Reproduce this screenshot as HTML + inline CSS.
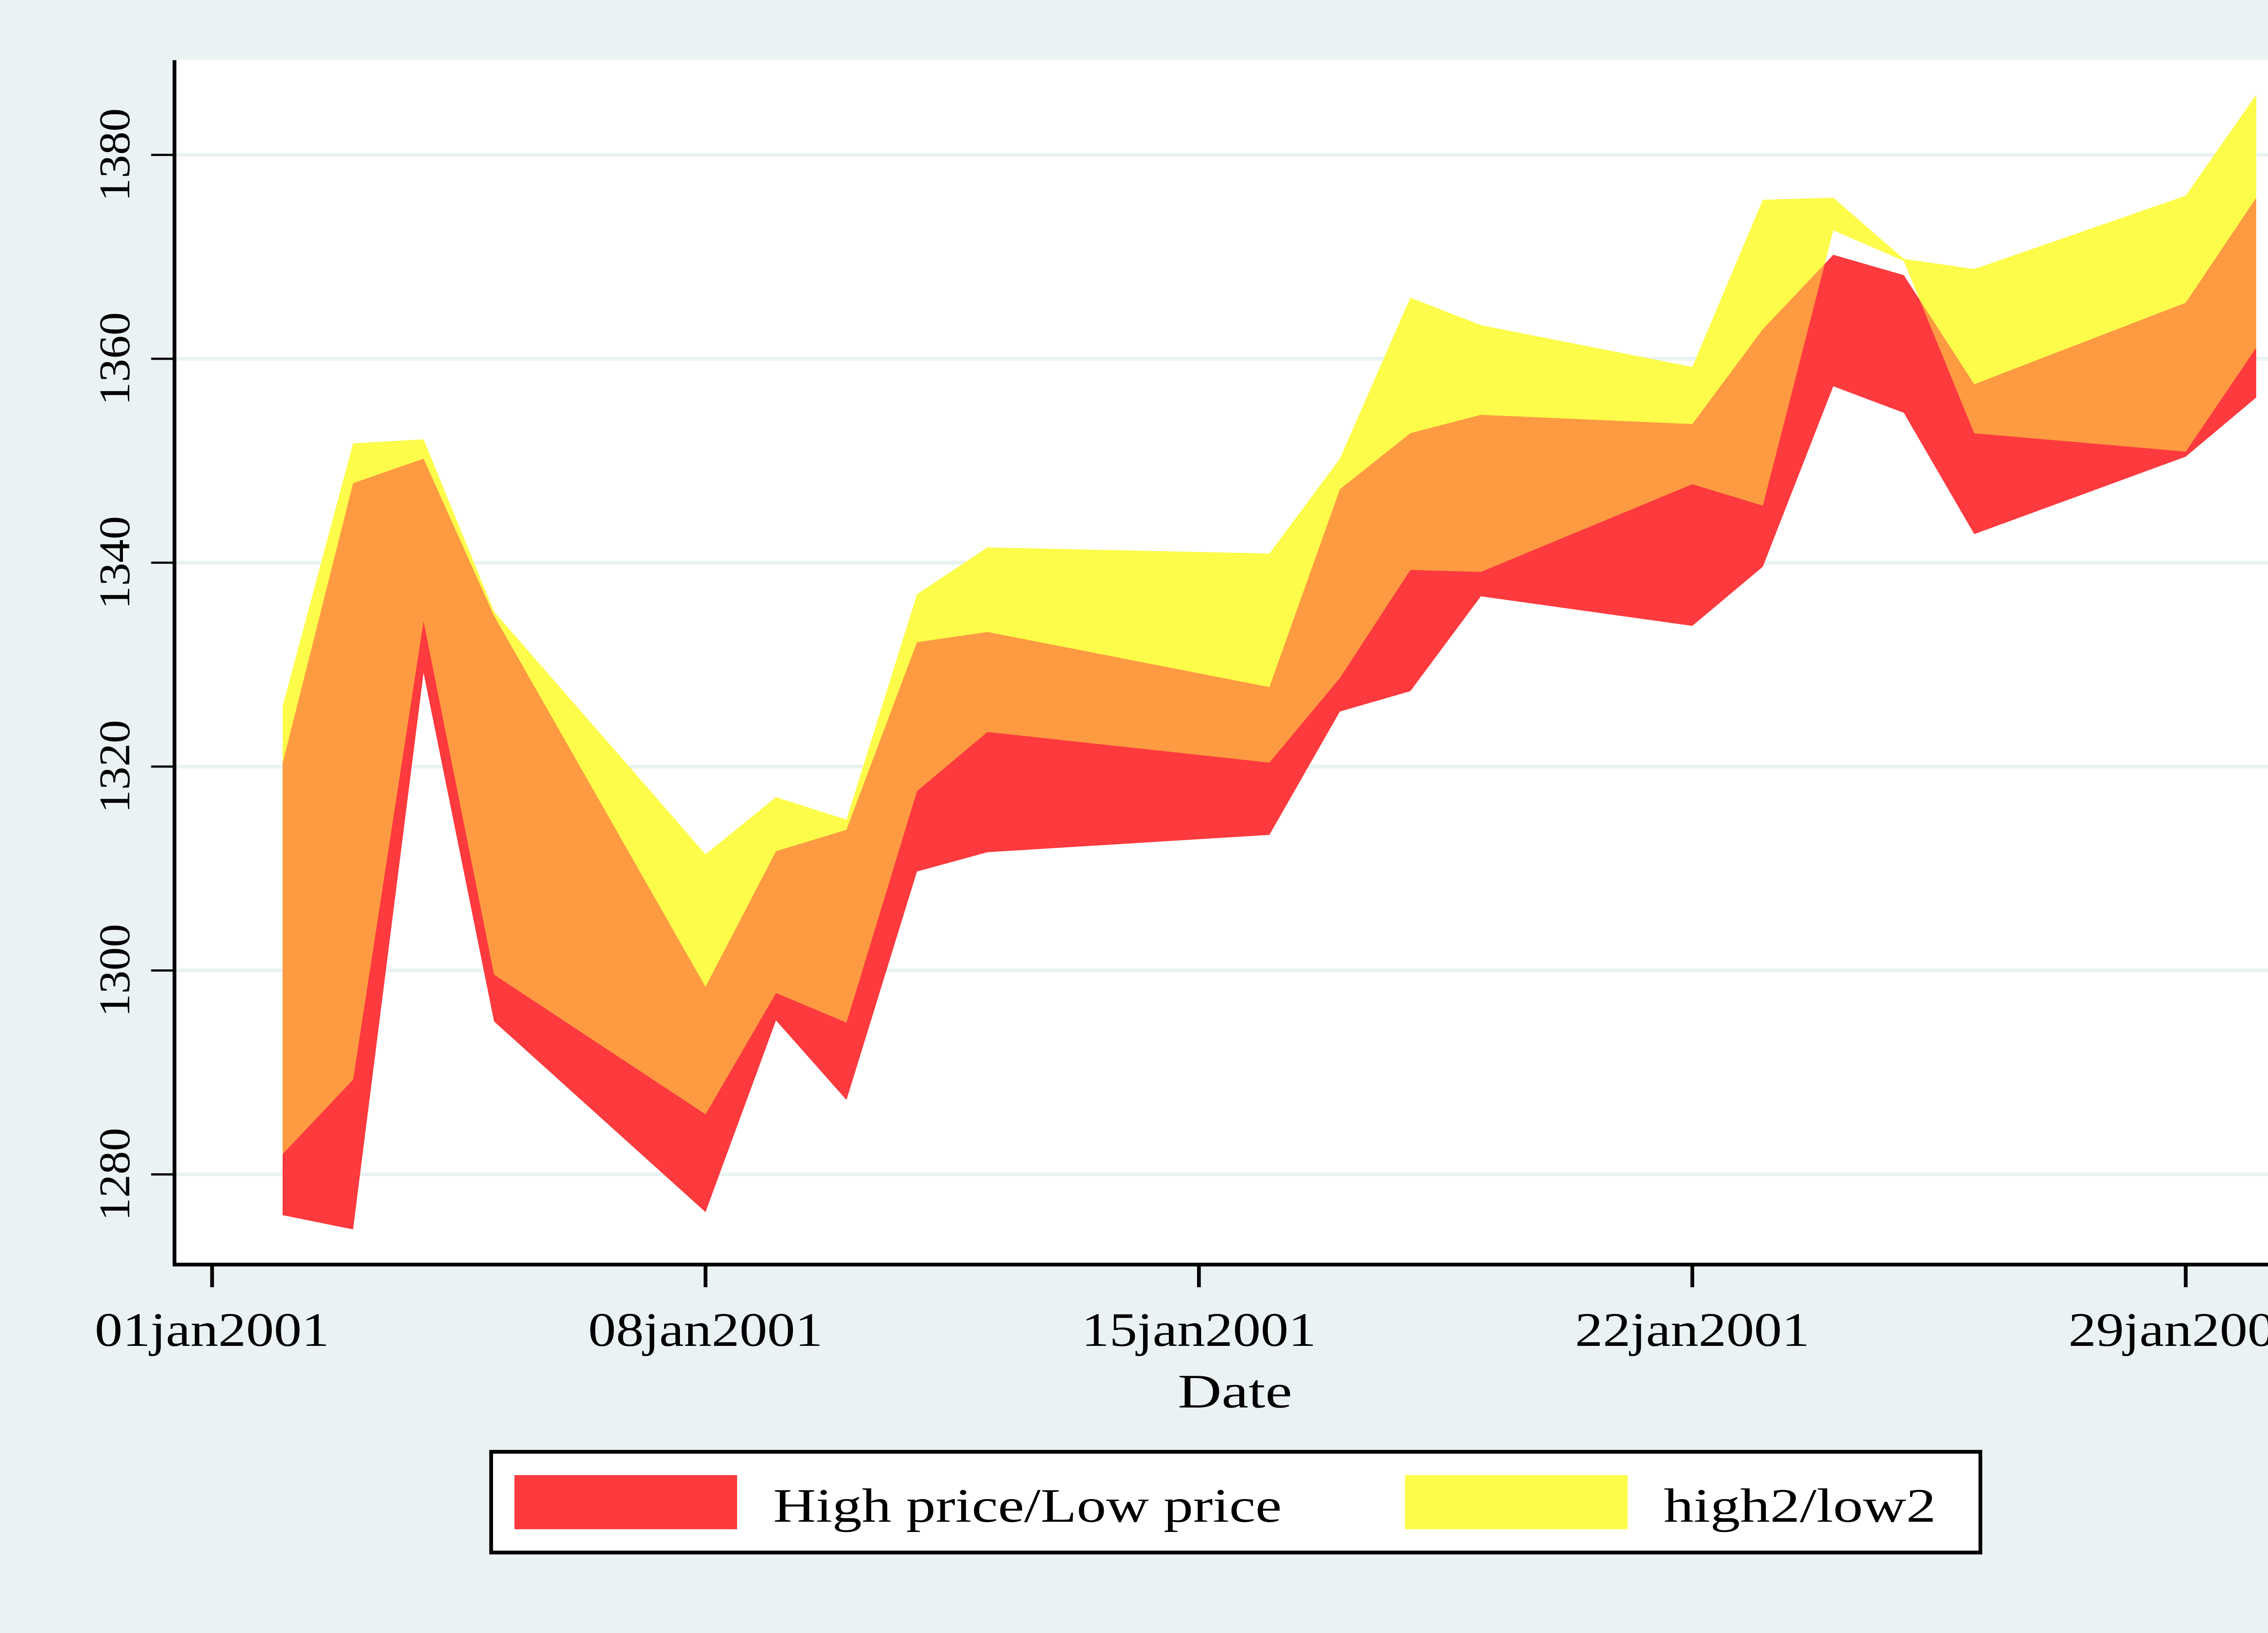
<!DOCTYPE html>
<html><head><meta charset="utf-8"><style>
html,body{margin:0;padding:0;background:#EAF2F3;width:5200px;height:3600px;overflow:hidden;}
svg{display:block;position:absolute;left:0;top:0;}
text{font-family:"Liberation Serif",serif;fill:#000;}
</style></head>
<body>
<svg id="chart" width="5200" height="3600" style="width:5200px;height:3600px" xmlns="http://www.w3.org/2000/svg">
<g transform="scale(3.31633,3.31492)">
<rect x="0" y="0" width="1568" height="1086" fill="#EAF2F3"/>
<rect x="116" y="40" width="1411" height="801" fill="#FFFFFF"/>
<g id="grid"></g>
<defs><clipPath id="yellowClip"><path id="yellowClipPath"/></clipPath></defs>
<g id="series"></g>
<g id="axes"></g>
<g>
<rect x="326.5" y="965.5" width="990" height="67" fill="#fff" stroke="#000" stroke-width="2.5"/>
<rect x="342" y="981" width="148" height="36" fill="#FD3A3E"/>
<text x="514" y="1012" font-size="32" textLength="338" lengthAdjust="spacingAndGlyphs">High price/Low price</text>
<rect x="934" y="981" width="148" height="36" fill="#FDFC4A"/>
<text x="1106" y="1012" font-size="32" textLength="181" lengthAdjust="spacingAndGlyphs">high2/low2</text>
</g>
<text x="783" y="936" font-size="32" textLength="76" lengthAdjust="spacingAndGlyphs">Date</text>
</g>
</svg>
<script>
const days = [2,3,4,5,8,9,10,11,12,16,17,18,19,22,23,24,25,26,29,30];
const high = [1320.3,1347.8,1350.2,1334.8,1298.4,1311.7,1313.8,1332.2,1333.2,1327.8,1347.2,1352.7,1354.5,1353.6,1362.9,1370.2,1368.2,1357.5,1365.5,1375.8];
const low = [1276.0,1274.6,1329.2,1295.0,1276.3,1295.1,1287.3,1309.7,1311.6,1313.3,1325.4,1327.4,1336.7,1333.8,1339.6,1357.3,1354.7,1342.8,1350.4,1356.2];
const high2 = [1325.9,1351.7,1352.1,1335.2,1311.4,1317.0,1314.8,1336.9,1341.5,1340.9,1350.2,1366.0,1363.3,1359.2,1375.6,1375.8,1369.8,1368.8,1376.0,1385.9];
const low2 = [1282.0,1289.3,1334.3,1299.6,1285.9,1297.8,1294.9,1317.6,1323.4,1320.4,1328.7,1339.3,1339.1,1347.7,1345.6,1372.6,1369.6,1352.7,1350.9,1361.1];
const yTicks = [1280,1300,1320,1340,1360,1380];
const xTickDays = [1,8,15,22,29];
const xTickLabels = ["01jan2001","08jan2001","15jan2001","22jan2001","29jan2001"];

const NS = "http://www.w3.org/2000/svg";
const xs = d => 141 + (d - 1) * (328 / 7);
const ys = v => 781 - (v - 1280) * 6.78;

function areaPath(hi, lo) {
  let p = "";
  days.forEach((d, i) => { p += (i ? "L" : "M") + xs(d).toFixed(2) + "," + ys(hi[i]).toFixed(2); });
  for (let i = days.length - 1; i >= 0; i--) p += "L" + xs(days[i]).toFixed(2) + "," + ys(lo[i]).toFixed(2);
  return p + "Z";
}
function mk(tag, attrs, parent) {
  const e = document.createElementNS(NS, tag);
  for (const k in attrs) e.setAttribute(k, attrs[k]);
  parent.appendChild(e);
  return e;
}
const grid = document.getElementById("grid");
yTicks.forEach(t => {
  const l = mk("line", {x1:116, x2:1527, y1:ys(t), y2:ys(t), stroke:"#EAF2F3", "stroke-width":2.5}, grid);
  
  
});
const series = document.getElementById("series");
const redP = areaPath(high, low), yelP = areaPath(high2, low2);
document.getElementById("yellowClipPath").setAttribute("d", yelP);
const r = mk("path", {d:redP, fill:"#FD3A3E"}, series);


const y = mk("path", {d:yelP, fill:"#FDFC4A"}, series);


const o = mk("path", {d:redP, fill:"#FD9A42", "clip-path":"url(#yellowClip)"}, series);



const axes = document.getElementById("axes");
const ya = mk("line", {x1:116, x2:116, y1:40, y2:842, stroke:"#000", "stroke-width":2.5}, axes);


const xa = mk("line", {x1:115, x2:1527, y1:841, y2:841, stroke:"#000", "stroke-width":2.5}, axes);


yTicks.forEach(t => {
  const tk = mk("line", {x1:100.5, x2:116, y1:ys(t), y2:ys(t), stroke:"#000", "stroke-width":1.5}, axes);
  
  
  const tx = mk("text", {x:-31, y:0, "font-size":29, textLength:62, lengthAdjust:"spacingAndGlyphs", transform:"translate(86," + ys(t) + ") rotate(-90)"}, axes);
  tx.textContent = t;
  
  
});
xTickDays.forEach((d, i) => {
  const tk = mk("line", {x1:xs(d), x2:xs(d), y1:841, y2:856, stroke:"#000", "stroke-width":2.5}, axes);
  
  
  const tx = mk("text", {x:xs(d) - 78, y:895, "font-size":32, textLength:156, lengthAdjust:"spacingAndGlyphs"}, axes);
  tx.textContent = xTickLabels[i];
  
  
});
</script>
</body></html>
